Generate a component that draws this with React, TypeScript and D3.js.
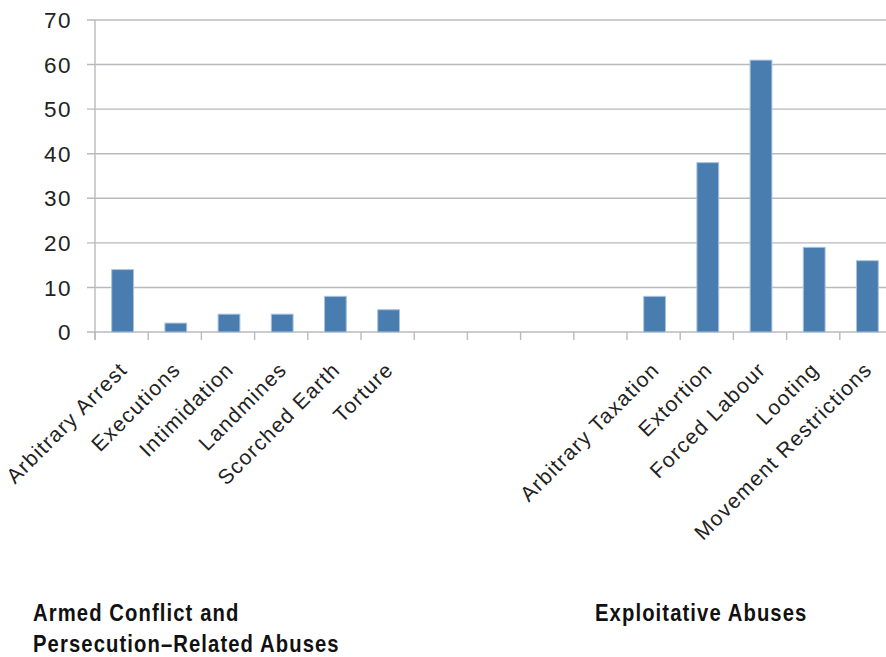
import React from "react";
import * as d3 from "d3";

const categories: string[] = [
  "Arbitrary Arrest",
  "Executions",
  "Intimidation",
  "Landmines",
  "Scorched Earth",
  "Torture",
  "",
  "",
  "",
  "",
  "Arbitrary Taxation",
  "Extortion",
  "Forced Labour",
  "Looting",
  "Movement Restrictions",
];
const values: (number | null)[] = [14, 2, 4, 4, 8, 5, null, null, null, null, 8, 38, 61, 19, 16];
const yTicks: number[] = [0, 10, 20, 30, 40, 50, 60, 70];
const groupLabels: { lines: string[]; slot: number }[] = [
  { lines: ["Armed Conflict and", "Persecution\u2013Related Abuses"], slot: 0 },
  { lines: ["Exploitative Abuses"], slot: 10 },
];

const W = 886;
const H = 657;
const M = { left: 95, top: 20, zero: 332, right: 893 };

export default function App() {
  const idx = categories.map((_, i) => i);
  const x = d3
    .scaleBand<number>()
    .domain(idx)
    .range([M.left, M.right])
    .paddingInner(0.59)
    .paddingOuter(0.295);
  const step = x.step();
  const y = d3.scaleLinear().domain([0, 70]).range([M.zero, M.top]);
  const slotStart = (i: number) => M.left + i * step;
  const slotCenter = (i: number) => M.left + (i + 0.5) * step;

  const labelFont = "'Liberation Sans', Arial, Helvetica, sans-serif";
  const boldFont = "'Liberation Sans', Arial, sans-serif";

  return (
    <svg
      width={W}
      height={H}
      style={{ position: "absolute", left: 0, top: 0, background: "#fff" }}
    >
      {/* gridlines */}
      {yTicks.map((t) => (
        <line
          key={"g" + t}
          x1={87}
          x2={W}
          y1={y(t)}
          y2={y(t)}
          stroke="#b9b9c0"
          strokeWidth={1.4}
        />
      ))}
      {/* y axis line */}
      <line x1={M.left} x2={M.left} y1={M.top} y2={M.zero + 8} stroke="#b9b9c0" strokeWidth={1.4} />
      {/* x ticks */}
      {d3.range(categories.length + 1).map((i) => (
        <line
          key={"t" + i}
          x1={slotStart(i)}
          x2={slotStart(i)}
          y1={M.zero}
          y2={M.zero + 8}
          stroke="#b9b9c0"
          strokeWidth={1.4}
        />
      ))}
      {/* y labels */}
      {yTicks.map((t) => (
        <text
          key={"yl" + t}
          x={72}
          y={y(t)}
          dy="0.36em"
          textAnchor="end"
          fontFamily={labelFont}
          fontSize={22.5}
          letterSpacing={1.5}
          fill="#222"
        >
          {t}
        </text>
      ))}
      {/* bars */}
      {values.map((v, i) =>
        v == null ? null : (
          <rect
            key={"b" + i}
            x={x(i)! + 1}
            y={y(v)}
            width={x.bandwidth()}
            height={y(0) - y(v)}
            fill="#4a7daf"
            stroke="#a9c3dc"
            strokeWidth={1}
          />
        )
      )}
      {/* x labels */}
      {categories.map((c, i) =>
        c ? (
          <text
            key={"xl" + i}
            transform={`translate(${slotCenter(i) + 7},${M.zero + 39}) rotate(-45)`}
            textAnchor="end"
            fontFamily={labelFont}
            fontSize={21}
            letterSpacing={1.3}
            fill="#222"
          >
            {c}
          </text>
        ) : null
      )}
      {/* group labels */}
      {groupLabels.map((g, gi) =>
        g.lines.map((line, li) => (
          <text
            key={"gl" + gi + "-" + li}
            transform={`translate(${gi === 0 ? 33 : 595},${621 + li * 31}) scale(0.88,1)`}
            fontFamily={boldFont}
            fontWeight="bold"
            fontSize={23}
            letterSpacing={1.25}
            fill="#111"
          >
            {line}
          </text>
        ))
      )}
    </svg>
  );
}
